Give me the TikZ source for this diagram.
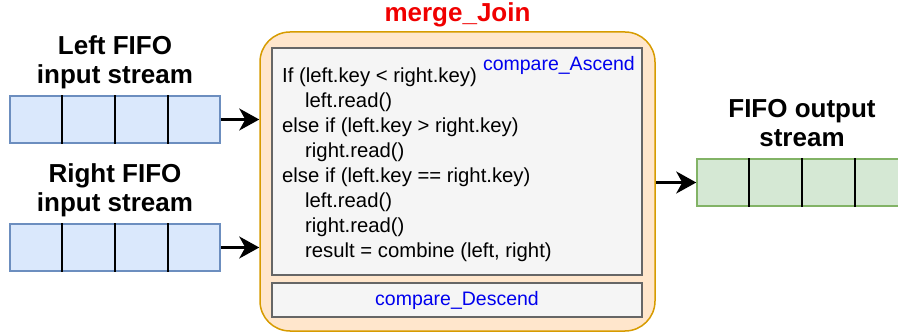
\documentclass[tikz,border=0pt]{standalone}
\usepackage{fontspec}
\setmainfont{Liberation Sans}
\usepackage{tikz}
\usetikzlibrary{positioning,calc,arrows.meta}
\definecolor{fifoblue}{HTML}{DAE8FC}
\definecolor{fifobluedraw}{HTML}{6C8EBF}
\definecolor{fifogreen}{HTML}{D5E8D4}
\definecolor{fifogreendraw}{HTML}{82B366}
\definecolor{joinfill}{HTML}{FFE6CC}
\definecolor{joindraw}{HTML}{D79B00}
\definecolor{codefill}{HTML}{F5F5F5}
\definecolor{codedraw}{HTML}{666666}
\definecolor{funcblue}{HTML}{0000EE}
\definecolor{titlered}{HTML}{F00000}

\begin{document}
\begin{tikzpicture}[x=1pt,y=-1pt,>={Stealth[length=20pt,width=22pt,inset=6pt]},
  fifo/.style={draw=fifobluedraw,fill=fifoblue,line width=1.5pt,minimum width=210pt,minimum height=47pt,inner sep=0pt},
  outfifo/.style={fifo,draw=fifogreendraw,fill=fifogreen},
  divider/.style={line width=1.6pt,black},
  fifolabel/.style={font=\bfseries\fontsize{26}{29}\selectfont,align=center,inner sep=0pt,text depth=5.5pt},
  joinbox/.style={draw=joindraw,fill=joinfill,line width=1.5pt,rounded corners=30pt,minimum width=395pt,minimum height=299pt},
  codebox/.style={draw=codedraw,fill=codefill,line width=1.5pt,minimum width=370pt,inner sep=0pt},
  code/.style={font=\fontsize{20.3}{25}\selectfont,align=left,inner sep=0pt},
  func/.style={font=\fontsize{19.5}{23}\selectfont,text=funcblue,inner sep=0pt},
  arr/.style={->,line width=2.6pt}]
  \useasboundingbox (0,0) rectangle (898,334);

  \node[fifo] (lfifo) at (115,119.5) {};
  \node[fifo] (rfifo) at (115,247.5) {};
  \node[outfifo] (ofifo) at (802,182.5) {};
  \foreach \f in {lfifo,rfifo,ofifo}
    \foreach \i in {1,2,3}
      \draw[divider] ($(\f.north west)!\i/4!(\f.north east)$) -- ($(\f.south west)!\i/4!(\f.south east)$);

  \node[fifolabel,above=6.5pt of lfifo] (llabel) {Left FIFO\\input stream};
  \node[fifolabel,above=6.5pt of rfifo] (rlabel) {Right FIFO\\input stream};
  \node[fifolabel,above=6.5pt of ofifo] (olabel) {FIFO output\\stream};

  \node[joinbox] (join) at (457.5,181.5) {};
  \node[font=\bfseries\fontsize{26}{29}\selectfont,text=titlered,anchor=base,inner sep=0pt] (jtitle) at ([yshift=10pt]join.north) {merge\_Join};

  \node[codebox,minimum height=227pt] (ascend) at (457,161.5) {};
  \node[codebox,minimum height=34pt,func] (descend) at (457,300) {compare\_Descend};
  \node[func,anchor=base east] (asclabel) at (635,71) {compare\_Ascend};
  \node[code,anchor=north west] (ascode) at (282,67.5) {If (left.key < right.key)\\
    \hspace*{23pt}left.read()\\
    else if (left.key > right.key)\\
    \hspace*{23pt}right.read()\\
    else if (left.key == right.key)\\
    \hspace*{23pt}left.read()\\
    \hspace*{23pt}right.read()\\
    \hspace*{23pt}result = combine (left, right)};

  \draw[arr] (lfifo.east) -- (lfifo.east -| join.west);
  \draw[arr] (rfifo.east) -- (rfifo.east -| join.west);
  \draw[arr] (join.east |- ofifo.west) -- (ofifo.west);
\end{tikzpicture}
\end{document}
